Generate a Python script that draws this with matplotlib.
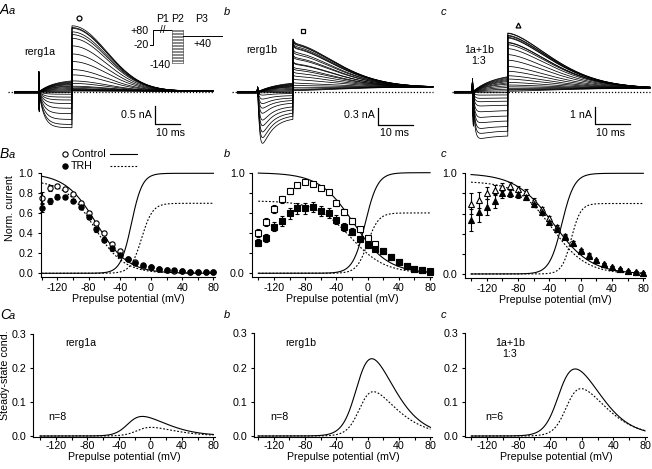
import numpy as np
import matplotlib.pyplot as plt
from matplotlib.lines import Line2D
from matplotlib.ticker import FormatStrFormatter

plt.rcParams['font.family'] = ['Liberation Sans', 'DejaVu Sans']
plt.rcParams['font.size'] = 7.7
plt.rcParams['axes.unicode_minus'] = False
plt.rcParams['axes.linewidth'] = 0.8

W, H = 652, 469
fig = plt.figure(figsize=(W / 100, H / 100), dpi=100)

# prepulse potentials (mV), one sweep / one point each
volts = [-140, -130, -120, -110, -100, -90, -80, -70, -60, -50, -40, -30,
         -20, -10, 0, 10, 20, 30, 40, 50, 60, 70, 80]

# ---- B: normalised current (control = open, TRH = filled)
ctrl_a = [0.757, 0.85, 0.873, 0.84, 0.793, 0.707, 0.607, 0.50, 0.40, 0.293, 0.223, 0.143,
          0.11, 0.073, 0.06, 0.043, 0.033, 0.027, 0.02, 0.015, 0.012, 0.012, 0.012]
ctrl_a_err = [0.06, 0.03, 0.02, 0.02, 0.02, 0.02, 0.02, 0.02, 0.02, 0.02, 0.015, 0.01,
              0.01, 0.01, 0.01, 0.01, 0.01, 0.01, 0.01, 0.01, 0.01, 0.01, 0.01]
trh_a = [0.657, 0.723, 0.767, 0.767, 0.723, 0.66, 0.56, 0.44, 0.333, 0.25, 0.183, 0.14,
         0.107, 0.08, 0.06, 0.043, 0.033, 0.03, 0.02, 0.013, 0.01, 0.01, 0.01]
trh_a_err = [0.045, 0.03, 0.025, 0.02, 0.02, 0.02, 0.02, 0.025, 0.025, 0.025, 0.02, 0.015,
             0.01, 0.01, 0.01, 0.01, 0.01, 0.01, 0.01, 0.01, 0.01, 0.01, 0.01]

ctrl_b = [0.404, 0.51, 0.636, 0.735, 0.82, 0.877, 0.904, 0.89, 0.845, 0.805, 0.70, 0.61,
          0.523, 0.437, 0.348, 0.288, 0.225, 0.16, 0.116, 0.073, 0.046, 0.033, 0.02]
ctrl_b_err = [0.04, 0.04, 0.04, 0.035, 0.03, 0.025, 0.02, 0.02, 0.02, 0.025, 0.03, 0.03,
              0.03, 0.025, 0.02, 0.02, 0.02, 0.015, 0.015, 0.01, 0.01, 0.01, 0.01]
trh_b = [0.305, 0.354, 0.464, 0.52, 0.596, 0.646, 0.646, 0.656, 0.623, 0.596, 0.53, 0.457,
         0.414, 0.341, 0.281, 0.238, 0.219, 0.159, 0.109, 0.073, 0.043, 0.033, 0.017]
trh_b_err = [0.035, 0.04, 0.045, 0.05, 0.055, 0.055, 0.055, 0.05, 0.05, 0.05, 0.045, 0.04,
             0.035, 0.03, 0.025, 0.02, 0.02, 0.02, 0.015, 0.015, 0.01, 0.01, 0.01]

ctrl_c = [0.70, 0.735, 0.80, 0.83, 0.868, 0.874, 0.84, 0.81, 0.728, 0.642, 0.553, 0.47,
          0.377, 0.305, 0.238, 0.189, 0.139, 0.10, 0.073, 0.05, 0.033, 0.023, 0.007]
ctrl_c_err = [0.1, 0.08, 0.06, 0.05, 0.04, 0.035, 0.03, 0.03, 0.025, 0.025, 0.02, 0.02,
              0.02, 0.02, 0.015, 0.015, 0.01, 0.01, 0.01, 0.01, 0.01, 0.01, 0.01]
trh_c = [0.536, 0.613, 0.669, 0.728, 0.808, 0.80, 0.79, 0.76, 0.70, 0.62, 0.52, 0.444,
         0.364, 0.305, 0.232, 0.182, 0.139, 0.10, 0.073, 0.05, 0.033, 0.02, 0.007]
trh_c_err = [0.11, 0.1, 0.08, 0.07, 0.05, 0.04, 0.035, 0.03, 0.03, 0.025, 0.025, 0.02,
             0.02, 0.02, 0.015, 0.015, 0.01, 0.01, 0.01, 0.01, 0.01, 0.01, 0.01]

# Boltzmann fits (amplitude, V1/2, slope), [control, TRH]
inact_a = [(1.0, -70, 20), (0.93, -73, 19)]
act_a = [(1.0, -25, 7), (0.7, -12, 7)]
inact_b = [(1.0, -18, 22), (0.72, -22, 22)]
act_b = [(1.0, -3, 8), (0.6, 0, 7)]
inact_c = [(1.0, -35, 24), (0.92, -37, 22)]
act_c = [(1.0, -24, 8), (0.7, -12, 6)]

# C: window conductance (gmax, Va, ka, Vh, kh), [control, TRH]
win_a = [(0.095, -27, 8, 8, 24), (0.045, -15, 8, 15, 24)]
win_b = [(0.38, -12, 9, 22, 22), (0.255, -8, 8, 16, 26)]
win_c = [(0.29, -28, 9, 16, 22), (0.225, -18, 8, 18, 24)]
n_cells = ['n=8', 'n=8', 'n=6']

# ---- A: current traces, P2 current per sweep (nA) and tail peaks (nA)
p2_a = [-1.0, -0.91, -0.77, -0.61, -0.46, -0.33, -0.23, -0.15, -0.07, -0.02, 0.0, 0.03,
        0.06, 0.09, 0.12, 0.15, 0.17, 0.2, 0.22, 0.24, 0.26, 0.28, 0.3]
p2_b = [-0.91, -0.81, -0.71, -0.6, -0.5, -0.38, -0.29, -0.21, -0.13, -0.06, -0.02, 0.0,
        0.02, 0.04, 0.06, 0.08, 0.09, 0.1, 0.11, 0.12, 0.13, 0.14, 0.15]
p2_c = [-2.75, -2.45, -2.16, -1.82, -1.51, -1.18, -0.84, -0.59, -0.39, -0.2, -0.06, 0.05,
        0.15, 0.25, 0.35, 0.45, 0.52, 0.6, 0.66, 0.72, 0.78, 0.84, 0.88]
tail_peak = [1.83, 0.85, 3.45]
# timing (ms): P2 start, P3 start, sweep end
timing = [(9.6, 22.8, 79.2), (5.7, 15.7, 55.7), (5.1, 15.1, 55.7)]


def box(x0, y0, x1, y1):
    return fig.add_axes([x0 / W, 1 - y1 / H, (x1 - x0) / W, (y1 - y0) / H])


def ftext(x, y, s, **kw):
    fig.text(x / W, 1 - y / H, s, **kw)


def boltz(v, amp, vh, k):
    return amp / (1 + np.exp((v - vh) / k))


def window(v, g, va, ka, vh, kh):
    return g / (1 + np.exp(-(v - va) / ka)) / (1 + np.exp((v - vh) / kh))


def sweeps(t2, t3, tend, p2, tails, kind, tau, pw, off, art, fast=0.0):
    t = np.arange(0, tend, 0.02)
    s2 = np.clip(t - t2, 0, None)
    s3 = np.clip(t - t3, 0, None)
    m2 = (t >= t2) & (t < t3)
    m3 = t >= t3
    if kind == 'a':
        inw = 1 - np.exp(-s2 / 2.0)
    elif kind == 'b':
        inw = 0.65 * (np.exp(-s2 / 3.0) - np.exp(-s2 / 0.5)) + 0.35 * (1 - np.exp(-s2 / 0.5))
    else:
        inw = (1 - np.exp(-s2 / 0.5)) * (0.88 + 0.12 * np.exp(-s2 / 4.0))
    inw = inw / inw[m2].max()
    outw = (1 - np.exp(-s2 / 6.0)) / (1 - np.exp(-(t3 - t2) / 6.0))
    spike = art[0] * np.exp(-((t - t2 + 0.1) / 0.08) ** 2) - art[1] * np.exp(-((t - t2 - 0.12) / 0.08) ** 2)
    tmax = max(tails)
    res = []
    for a2, a3 in zip(p2, tails):
        i = np.zeros_like(t)
        i[m2] = a2 * (inw[m2] if a2 < 0 else outw[m2])
        i[m3] = off + (a3 - off) * np.exp(-(s3[m3] / tau) ** pw) + fast * a3 / tmax * np.exp(-s3[m3] / 0.4)
        res.append(i + spike)
    return t, res


# ---------------- row A ----------------
a_specs = [
    # box px, t0 px, px/ms, baseline px, px/nA
    dict(box=(5, 5, 215, 145), t0=15, sx=2.5, base=91.7, sy=36.0, p2=p2_a, ctrl=ctrl_a,
         kind='a', tau=19.6, pw=2.0, off=0.02, art=(0.55, 0.5), fast=0.0, dot0=8,
         bar=(56, -0.9, 0.5), blab='0.5 nA', mk='o'),
    dict(box=(222, 5, 437, 145), t0=238, sx=3.5, base=91.7, sy=56.7, p2=p2_b, ctrl=ctrl_b,
         kind='b', tau=17.0, pw=1.7, off=0.08, art=(0.08, 0.08), fast=0.08, dot0=232,
         bar=(40, -0.59, 0.3), blab='0.3 nA', mk='s'),
    dict(box=(437, 5, 652, 145), t0=455, sx=3.5, base=91.7, sy=17.0, p2=p2_c, ctrl=ctrl_c,
         kind='c', tau=17.5, pw=1.6, off=0.2, art=(0.75, 1.4), fast=0.0, dot0=452,
         bar=(40, -1.9, 1.0), blab='1 nA', mk='^'),
]
for k, sp in enumerate(a_specs):
    x0, y0, x1, y1 = sp['box']
    ax = box(x0, y0, x1, y1)
    ax.set_xlim((x0 - sp['t0']) / sp['sx'], (x1 - sp['t0']) / sp['sx'])
    ax.set_ylim((sp['base'] - y1) / sp['sy'], (sp['base'] - y0) / sp['sy'])
    ax.axis('off')
    t2, t3, tend = timing[k]
    tails = np.array(sp['ctrl']) / max(sp['ctrl']) * tail_peak[k]
    t, fam = sweeps(t2, t3, tend, sp['p2'], tails, sp['kind'], sp['tau'], sp['pw'],
                    sp['off'], sp['art'], sp['fast'])
    ax.plot([(sp['dot0'] - sp['t0']) / sp['sx'], tend], [0, 0], color='k', lw=0.9,
            ls=(0, (1, 1.5)), zorder=1)
    ax.plot(t[t < t2], np.zeros((t < t2).sum()), color='k', lw=2.2, alpha=0.85, zorder=2)
    for tr in fam:
        ax.plot(t, tr, color='k', lw=0.55, zorder=3)
    top = tails.max() + sp['fast']
    ax.plot(t3 + 2.8, top + 8.0 / sp['sy'], marker=sp['mk'], ms=3.5, mfc='white',
            mec='k', mew=0.9, ls='none')
    bx, by, bh = sp['bar']
    ax.plot([bx, bx, bx + 10], [by + bh, by, by], color='k', lw=0.9)
    xb = x0 + (bx - (x0 - sp['t0']) / sp['sx']) * sp['sx']
    ftext(xb - 3, 115, sp['blab'], ha='right', va='center')
    ftext(xb + 1.5, 133, '10 ms', ha='left', va='center')

ftext(40, 52, 'rerg1a', ha='center', va='center')
ftext(262, 50, 'rerg1b', ha='center', va='center')
ftext(479, 50, '1a+1b', ha='center', va='center')
ftext(479, 61, '1:3', ha='center', va='center')

# voltage protocol inset
prot_hold, prot_p1, prot_p3 = -20, 80, 40
prot_dur = [3, 19, 11, 39]   # hold, P1, P2, P3 (arbitrary units)
iax = box(135, 12, 225, 72)
iax.set_xlim(-15, 75)
iax.set_ylim(-140 - (72 - 63) / 0.15, 80 + (30 - 12) / 0.15)
iax.axis('off')
e1 = prot_dur[0]
e2 = e1 + prot_dur[1]
e3 = e2 + prot_dur[2]
e4 = e3 + prot_dur[3]
iax.plot([0, e1, e1, e2], [prot_hold, prot_hold, prot_p1, prot_p1], color='k', lw=0.7)
for v in volts:
    iax.plot([e2, e3], [v, v], color='0.35', lw=0.5)
iax.plot([e2, e2], [-140, 80], color='0.35', lw=0.5)
iax.plot([e3, e3], [-140, 80], color='0.35', lw=0.5)
iax.plot([e3, e4], [prot_p3, prot_p3], color='k', lw=0.7)
iax.text((e1 + e2) / 2, prot_p1, '//', ha='center', va='center', fontsize=7)
iax.text((e1 + e2) / 2, 155, 'P1', ha='center', va='center')
iax.text((e2 + e3) / 2, 155, 'P2', ha='center', va='center')
iax.text(e3 + 19, 155, 'P3', ha='center', va='center')
iax.text(-1.5, prot_p1 - 5, '+80', ha='right', va='center')
iax.text(-1, prot_hold, '-20', ha='right', va='center')
iax.text(e2 - 1, -150, '-140', ha='right', va='center')
iax.text(e3 + 19, -13, '+40', ha='center', va='center')

# ---------------- row B ----------------
b_specs = [
    dict(box=(40.7, 173.3, 215, 277.3), xl=(-141.3, 82), c=ctrl_a, ce=ctrl_a_err, tr=trh_a,
         te=trh_a_err, inact=inact_a, act=act_a, mk='o', allticks=True),
    dict(box=(252.3, 172.7, 432, 277.3), xl=(-147.7, 82.5), c=ctrl_b, ce=ctrl_b_err, tr=trh_b,
         te=trh_b_err, inact=inact_b, act=act_b, mk='s', allticks=False),
    dict(box=(465, 173.3, 645.3, 278), xl=(-147.7, 82.5), c=ctrl_c, ce=ctrl_c_err, tr=trh_c,
         te=trh_c_err, inact=inact_c, act=act_c, mk='^', allticks=False),
]
vgrid = np.linspace(-140, 80, 300)


def style_axes(ax):
    for s in ('top', 'right'):
        ax.spines[s].set_visible(False)
    ax.set_xticks([-120, -80, -40, 0, 40, 80])
    ax.set_xticks([-140, -100, -60, -20, 20, 60], minor=True)
    ax.tick_params(which='both', direction='out', length=2.5, width=0.8, pad=1.5)
    ax.tick_params(axis='y', which='both', pad=3)


for sp in b_specs:
    ax = box(*sp['box'])
    ax.set_xlim(*sp['xl'])
    ax.set_ylim(-0.04, 1.0)
    style_axes(ax)
    if sp['allticks']:
        ax.set_yticks([0, 0.2, 0.4, 0.6, 0.8, 1.0])
    else:
        ax.set_yticks([0, 1.0])
        ax.set_yticks([0.2, 0.4, 0.6, 0.8], minor=True)
    ax.yaxis.set_major_formatter(FormatStrFormatter('%.1f'))
    ax.set_xlabel('Prepulse potential (mV)', labelpad=1)
    for j, ls in enumerate(['-', (0, (1.6, 1.6))]):
        ax.plot(vgrid, boltz(vgrid, *sp['inact'][j]), color='k', lw=0.8, ls=ls, clip_on=False)
        amp, vh, kk = sp['act'][j]
        ax.plot(vgrid, boltz(vgrid, amp, vh, -kk), color='k', lw=0.8, ls=ls, clip_on=False)
    ax.errorbar(volts, sp['c'], yerr=sp['ce'], fmt=sp['mk'], ms=3.8, mfc='white', mec='k',
                mew=0.8, ecolor='k', elinewidth=0.8, capsize=1.2, capthick=0.8, clip_on=False)
    ax.errorbar(volts, sp['tr'], yerr=sp['te'], fmt=sp['mk'], ms=3.8, mfc='k', mec='k',
                mew=0.8, ecolor='k', elinewidth=0.8, capsize=1.2, capthick=0.8, clip_on=False)

ftext(10, 208, 'Norm. current', rotation=90, ha='center', va='center')

# legend (Ba)
for yy, fc, ls, lab in [(154, 'white', '-', 'Control'), (166, 'k', (0, (1.6, 1.6)), 'TRH')]:
    fig.add_artist(Line2D([65 / W], [1 - yy / H], marker='o', ms=3.8, mfc=fc, mec='k',
                          mew=0.8, transform=fig.transFigure))
    fig.add_artist(Line2D([110 / W, 137 / W], [1 - yy / H] * 2, color='k', lw=0.8, ls=ls,
                          transform=fig.transFigure))
    ftext(71, yy, lab, ha='left', va='center')

# ---------------- row C ----------------
c_specs = [
    dict(box=(33, 334, 215, 436.7), xl=(-148.9, 82), win=win_a),
    dict(box=(254, 333.3, 432, 436.7), xl=(-145.1, 82), win=win_b),
    dict(box=(465, 333.3, 647, 436.7), xl=(-147.9, 82.5), win=win_c),
]
for k, sp in enumerate(c_specs):
    ax = box(*sp['box'])
    ax.set_xlim(*sp['xl'])
    ax.set_ylim(-0.002, 0.3)
    style_axes(ax)
    ax.tick_params(axis='x', which='both', pad=0.5)
    ax.tick_params(axis='y', which='both', pad=2)
    ax.set_yticks([0, 0.1, 0.2, 0.3])
    ax.yaxis.set_major_formatter(FormatStrFormatter('%.1f'))
    ax.set_xlabel('Prepulse potential (mV)', labelpad=1)
    ax.plot(vgrid, window(vgrid, *sp['win'][0]), color='k', lw=0.8)
    ax.plot(vgrid, window(vgrid, *sp['win'][1]), color='k', lw=0.8, ls=(0, (1.6, 1.6)))

ftext(5, 375, 'Steady-state cond.', rotation=90, ha='center', va='center')
ftext(81, 343, 'rerg1a', ha='center', va='center')
ftext(301, 343, 'rerg1b', ha='center', va='center')
ftext(510, 343, '1a+1b', ha='center', va='center')
ftext(510, 354, '1:3', ha='center', va='center')
ftext(48, 417, n_cells[0], ha='left', va='center')
ftext(270, 417, n_cells[1], ha='left', va='center')
ftext(485, 417, n_cells[2], ha='left', va='center')

# panel letters
for row, yb in [('A', 14), ('B', 158), ('C', 319)]:
    ftext(0, yb, row, ha='left', va='baseline', fontsize=10, style='italic')
    ftext(8.5, yb, 'a', ha='left', va='baseline', fontsize=8, style='italic')
for yb in (15, 157, 318):
    ftext(224, yb, 'b', ha='left', va='baseline', fontsize=8, style='italic')
    ftext(441, yb, 'c', ha='left', va='baseline', fontsize=8, style='italic')

fig.savefig('out.png', dpi=100)
